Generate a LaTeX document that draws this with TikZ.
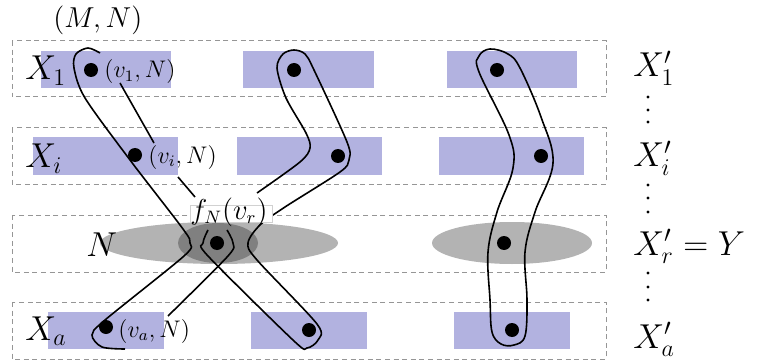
\documentclass[tikz,border=0pt]{standalone}
\usetikzlibrary{shapes.geometric}
\definecolor{rectblue}{RGB}{178,178,224}
\definecolor{lgray}{RGB}{179,179,179}
\definecolor{dgray}{RGB}{128,128,128}
\definecolor{dashgray}{RGB}{150,150,150}
\begin{document}
\begin{tikzpicture}[x=0.5pt,y=-0.5pt,
  rowbox/.style={draw=dashgray,line width=0.5pt,dash pattern=on 2.5pt off 1.8pt},
  bluebox/.style={fill=rectblue},
  dotn/.style={circle,fill=black,minimum size=7pt,inner sep=0pt},
  biglab/.style={inner sep=0pt,font=\fontsize{17}{20}\selectfont},
  smalllab/.style={inner sep=0pt,font=\fontsize{12}{14}\selectfont},
  hull/.style={line width=0.8pt,black},
  vdot/.style={circle,fill=black,minimum size=1.6pt,inner sep=0pt}]
\useasboundingbox (0,0) rectangle (758,363);
% row boxes
\draw[rowbox] (12,41) rectangle (606,97);
\draw[rowbox] (12,128) rectangle (606,184);
\draw[rowbox] (12,215) rectangle (606,272);
\draw[rowbox] (12,302) rectangle (606,359);
% blue rectangles
\fill[bluebox] (41,51) rectangle (171,88);
\fill[bluebox] (243,51) rectangle (374,88);
\fill[bluebox] (447,51) rectangle (577,88);
\fill[bluebox] (33,137) rectangle (178,175);
\fill[bluebox] (237,137) rectangle (382,175);
\fill[bluebox] (439,137) rectangle (584,175);
\fill[bluebox] (48,312) rectangle (164,349);
\fill[bluebox] (251,312) rectangle (367,349);
\fill[bluebox] (454,312) rectangle (570,349);
% ellipses
\fill[lgray] (219,243) ellipse [x radius=59.5pt, y radius=10.5pt];
\fill[dgray] (218,243) ellipse [x radius=20pt, y radius=10pt];
\fill[lgray] (512,243) ellipse [x radius=40pt, y radius=10.5pt];
% hull A
\draw[hull] plot[smooth] coordinates {(100,53) (88,48) (76,54) (74,68) (85,98) (130,160) (183,229) (190,243) (184,256) (105,320) (92,335) (102,347) (125,349)};
\draw[hull] (120,83) -- (154,143);
\draw[hull] (178,177) -- (195,197);
\draw[hull] plot[smooth] coordinates {(227,230) (233,243) (228,256) (168,316)};
% hull B
\draw[hull] plot[smooth] coordinates {(257,193) (300,162) (310,148) (306,133) (286,98) (277,68) (283,54) (294,50) (305,54) (314,70) (347,142) (349,160) (340,172) (285,207) (260,225) (248,243) (257,260) (317,324) (318,340) (307,348) (294,341) (208,256) (203,243) (208,230)};
% hull C
\draw[hull] plot[smooth cycle, tension=0.6] coordinates {(490,49) (479,56) (479,72) (509,135) (513,168) (497,212) (488,252) (490,300) (492,332) (501,344) (514,345) (525,336) (527,300) (525,252) (535,212) (553,163) (541,117) (520,68) (508,54)};
% dots
\node[dotn] (d11) at (91,70) {};
\node[dotn] (d12) at (294,70) {};
\node[dotn] (d13) at (497,70) {};
\node[dotn] (d21) at (135,155) {};
\node[dotn] (d22) at (338,156) {};
\node[dotn] (d23) at (541,156) {};
\node[dotn] (d31) at (217,243) {};
\node[dotn] (d33) at (504,243) {};
\node[dotn] (d41) at (106,327) {};
\node[dotn] (d42) at (309,330) {};
\node[dotn] (d43) at (512,330) {};
% small labels
\node[inner sep=0pt,anchor=base west,font=\fontsize{14.4}{16}\selectfont] (mn) at (53,28) {$(M,N)$};
\node[smalllab,anchor=base west] (l1) at (104,78) {$(v_1,N)$};
\node[smalllab,anchor=base west] (l2) at (148,163) {$(v_i,N)$};
\node[smalllab,anchor=base west] (l4) at (118,337) {$(v_a,N)$};
\draw[fill=white,draw=lgray!60,line width=0.4pt] (190,205) rectangle (272,222);
\node[inner sep=0pt,anchor=base west,font=\fontsize{13.5}{15}\selectfont] (fn) at (190,219) {$f_N(v_r)$};
% left labels
\node[biglab,anchor=base west] (x1) at (25,80) {$X_1$};
\node[biglab,anchor=base west] (xi) at (25,168) {$X_i$};
\node[biglab,anchor=base west] (nn) at (86,256) {$N$};
\node[biglab,anchor=base west] (xa) at (25,340) {$X_a$};
% right labels
\node[biglab,anchor=base west] (r1) at (633,77) {$X'_1$};
\node[biglab,anchor=base west] (ri) at (633,167) {$X'_i$};
\node[biglab,anchor=base west] (rr) at (633,255) {$X'_r = Y$};
\node[biglab,anchor=base west] (ra) at (633,348) {$X'_a$};
\foreach \yy in {97,110,122,185,198,212,273,287,300} \node[vdot] at (648,\yy) {};
\end{tikzpicture}
\end{document}
